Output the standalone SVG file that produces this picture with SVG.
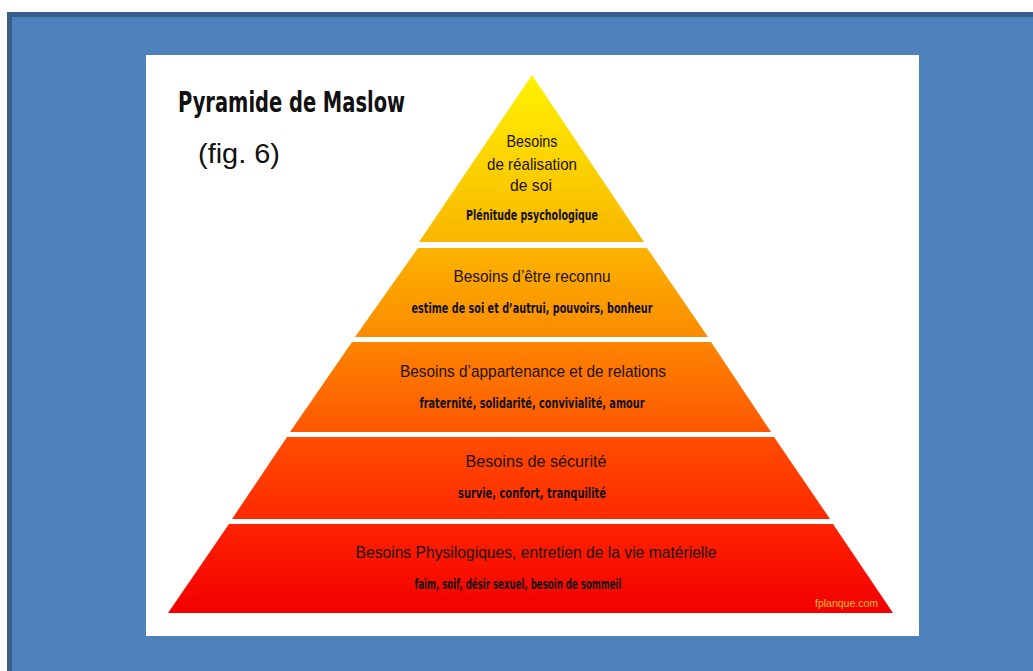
<svg xmlns="http://www.w3.org/2000/svg" width="1033" height="671" viewBox="0 0 1033 671">
<defs>
<linearGradient id="pg" gradientUnits="userSpaceOnUse" x1="0" y1="75" x2="0" y2="613">
<stop offset="0" stop-color="#fff200"/>
<stop offset="0.3" stop-color="#f9b800"/>
<stop offset="0.32" stop-color="#fdb400"/>
<stop offset="0.49" stop-color="#fb8a00"/>
<stop offset="0.5" stop-color="#fd8400"/>
<stop offset="0.66" stop-color="#fd5800"/>
<stop offset="0.67" stop-color="#ff4e00"/>
<stop offset="0.82" stop-color="#ff2a00"/>
<stop offset="0.83" stop-color="#ff2400"/>
<stop offset="1" stop-color="#f20000"/>
</linearGradient>
<style>
.l{font-family:"Liberation Sans Narrow","Liberation Sans",Arial,sans-serif;font-size:17px;fill:#1c1206;text-anchor:middle}
.c{font-family:"DejaVu Sans Condensed","DejaVu Sans","Liberation Sans",sans-serif;font-weight:bold;font-size:13.5px;fill:#111;text-anchor:middle}
.layer{fill:url(#pg)}
</style>
</defs>
<rect x="9.5" y="14.5" width="1100" height="700" fill="#4f81bd" stroke="#3a5f8b" stroke-width="5"/>
<rect x="146" y="55" width="773" height="581" fill="#ffffff"/>
<g id="title">
<text x="178" y="112" font-family="DejaVu Sans Condensed, DejaVu Sans, sans-serif" font-weight="bold" font-size="29" fill="#111" textLength="227" lengthAdjust="spacingAndGlyphs">Pyramide de Maslow</text>
<text x="198" y="163" font-family="Liberation Sans, Arial, sans-serif" font-size="28" fill="#111" textLength="82" lengthAdjust="spacingAndGlyphs">(fig. 6)</text>
</g>
<g id="level5">
<polygon class="layer" points="532,75 644,242 419,242"/>
<text class="l" x="532" y="147" textLength="51" lengthAdjust="spacingAndGlyphs">Besoins</text>
<text class="l" x="532" y="170" textLength="90" lengthAdjust="spacingAndGlyphs">de réalisation</text>
<text class="l" x="531" y="191" textLength="42" lengthAdjust="spacingAndGlyphs">de soi</text>
<text class="c" x="532" y="220" textLength="132" lengthAdjust="spacingAndGlyphs">Plénitude psychologique</text>
</g>
<g id="level4">
<polygon class="layer" points="418,248 647,248 708,337 355,337"/>
<text class="l" x="532" y="282" textLength="157" lengthAdjust="spacingAndGlyphs">Besoins d’être reconnu</text>
<text class="c" x="532" y="313" textLength="241" lengthAdjust="spacingAndGlyphs">estime de soi et d’autrui, pouvoirs, bonheur</text>
</g>
<g id="level3">
<polygon class="layer" points="352,342 711,342 771,432 290,432"/>
<text class="l" x="533" y="377" textLength="266" lengthAdjust="spacingAndGlyphs">Besoins d’appartenance et de relations</text>
<text class="c" x="532" y="408" textLength="225" lengthAdjust="spacingAndGlyphs">fraternité, solidarité, convivialité, amour</text>
</g>
<g id="level2">
<polygon class="layer" points="287,437 774,437 830,519 232,519"/>
<text class="l" x="536" y="467" textLength="141" lengthAdjust="spacingAndGlyphs">Besoins de sécurité</text>
<text class="c" x="532" y="498" textLength="148" lengthAdjust="spacingAndGlyphs">survie, confort, tranquilité</text>
</g>
<g id="level1">
<polygon class="layer" points="229,524 833,524 893,613 168,613"/>
<text class="l" x="536" y="558" textLength="361" lengthAdjust="spacingAndGlyphs">Besoins Physilogiques, entretien de la vie matérielle</text>
<text class="c" x="518" y="589" textLength="207" lengthAdjust="spacingAndGlyphs">faim, soif, désir sexuel, besoin de sommeil</text>
<text x="815" y="607" font-family="Liberation Sans Narrow, Liberation Sans, sans-serif" font-size="10" fill="#f8c030" textLength="63" lengthAdjust="spacingAndGlyphs">fplanque.com</text>
</g>
</svg>
